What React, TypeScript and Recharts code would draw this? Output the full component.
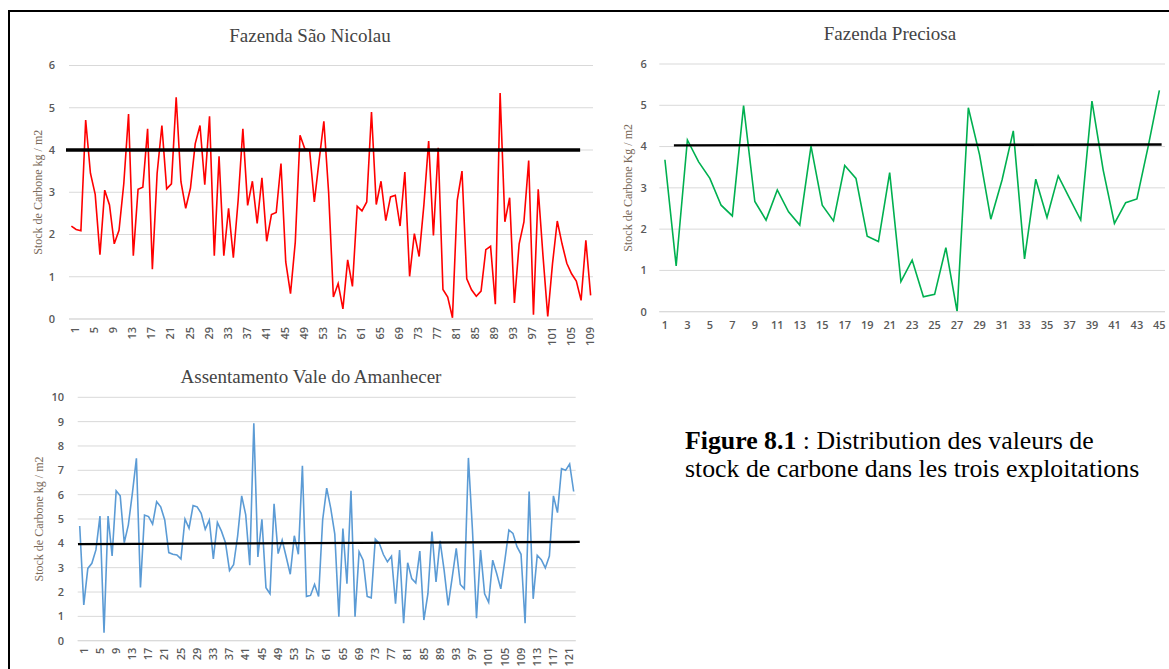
import React from 'react';
import { LineChart, Line, XAxis, YAxis, CartesianGrid, ReferenceLine, Label } from 'recharts';

// ---------- DATA ----------
const saoNicolauValues = [
  2.2, 2.12, 2.09, 4.71, 3.45, 2.95, 1.52, 3.05, 2.7, 1.78,
  2.1, 3.2, 4.85, 1.5, 3.07, 3.12, 4.5, 1.18, 3.45, 4.58,
  3.08, 3.2, 5.25, 3.25, 2.62, 3.1, 4.15, 4.58, 3.18, 4.8,
  1.5, 3.85, 1.5, 2.62, 1.45, 2.8, 4.5, 2.69, 3.26, 2.26,
  3.34, 1.84, 2.47, 2.52, 3.68, 1.35, 0.6, 1.82, 4.35, 4.03,
  4.0, 2.77, 3.75, 4.68, 3.0, 0.52, 0.84, 0.24, 1.4, 0.77,
  2.67, 2.56, 2.77, 4.9, 2.71, 3.26, 2.33, 2.89, 2.93, 2.2,
  3.48, 1.01, 2.02, 1.48, 2.7, 4.21, 1.98, 4.05, 0.7, 0.52,
  0.03, 2.81, 3.5, 0.95, 0.69, 0.54, 0.66, 1.64, 1.72, 0.35,
  5.35, 2.3, 2.87, 0.38, 1.78, 2.3, 3.75, 0.1, 3.07, 1.5,
  0.06, 1.31, 2.32, 1.78, 1.32, 1.07, 0.9, 0.44, 1.86, 0.56,
];

const preciosaValues = [
  3.68, 1.11, 4.16, 3.63, 3.23, 2.58, 2.32, 4.99, 2.67, 2.22,
  2.95, 2.42, 2.1, 4.01, 2.58, 2.2, 3.54, 3.23, 1.83, 1.7,
  3.37, 0.73, 1.25, 0.36, 0.42, 1.55, 0.0, 4.94, 3.8, 2.24,
  3.19, 4.38, 1.28, 3.21, 2.28, 3.29, 2.75, 2.22, 5.1, 3.43,
  2.14, 2.64, 2.73, 4.0, 5.36,
];

const valeValues = [
  4.71, 1.47, 2.97, 3.18, 3.73, 5.12, 0.33, 5.12, 3.48, 6.16,
  5.95, 4.03, 4.75, 6.05, 7.49, 2.19, 5.16, 5.1, 4.79, 5.71,
  5.5, 4.96, 3.62, 3.55, 3.52, 3.36, 5.0, 4.62, 5.55, 5.5,
  5.23, 4.58, 4.96, 3.36, 4.86, 4.5, 4.03, 2.88, 3.12, 4.3,
  5.95, 5.17, 3.1, 8.93, 3.44, 4.99, 2.18, 1.93, 5.62, 3.58,
  4.13, 3.44, 2.73, 4.31, 3.55, 7.19, 1.82, 1.86, 2.31, 1.82,
  4.96, 6.27, 5.44, 4.38, 0.99, 4.61, 2.34, 6.16, 0.99, 3.65,
  3.31, 1.82, 1.76, 4.17, 4.0, 3.54, 3.24, 3.47, 1.52, 3.72,
  0.72, 3.2, 2.55, 2.37, 3.68, 0.85, 1.93, 4.48, 2.41, 4.1,
  2.9, 1.45, 2.6, 3.79, 2.31, 2.13, 7.51, 4.55, 0.92, 3.72,
  1.93, 1.58, 3.31, 2.75, 2.13, 3.3, 4.55, 4.41, 3.86, 3.55,
  0.72, 6.13, 1.72, 3.51, 3.33, 2.99, 3.48, 5.95, 5.26, 7.07,
  7.0, 7.26, 6.13,
];

const saoNicolauCategories = saoNicolauValues.map((_, i) => i + 1);
const preciosaCategories = preciosaValues.map((_, i) => i + 1);
const valeCategories = valeValues.map((_, i) => i + 1);

const saoNicolauTicks = saoNicolauCategories.filter((_, i) => i % 4 === 0);
const preciosaTicks = preciosaCategories.filter((_, i) => i % 2 === 0);
const valeTicks = valeCategories.filter((_, i) => i % 4 === 0);

const yTicks6 = [0, 1, 2, 3, 4, 5, 6];
const yTicks10 = [0, 1, 2, 3, 4, 5, 6, 7, 8, 9, 10];

// threshold lines (category position, value)
const saoNicolauThreshold = [{ x: -0.13, y: 4 }, { x: 107.8, y: 4 }];
const preciosaThreshold = [{ x: 1.8, y: 4.03 }, { x: 45.2, y: 4.05 }];
const valeThreshold = [{ x: 0.57, y: 3.97 }, { x: 124.5, y: 4.06 }];

const titles = ['Fazenda São Nicolau', 'Fazenda Preciosa', 'Assentamento Vale do Amanhecer'];
const yLabels = ['Stock de Carbone kg / m2', 'Stock de Carbone Kg / m2', 'Stock de Carbone kg / m2'];

const build = (cats: number[], vals: number[]) => cats.map((n, i) => ({ n, v: vals[i] }));
const saoNicolauData = build(saoNicolauCategories, saoNicolauValues);
const preciosaData = build(preciosaCategories, preciosaValues);
const valeData = build(valeCategories, valeValues);

// ---------- STYLE ----------
const tickFont = { fontFamily: 'Open Sans', fontSize: 11, fontWeight: 600, fill: '#595959' };
const serif = 'Liberation Serif';

type PanelProps = {
  data: { n: number; v: number }[];
  color: string;
  xTicks: number[];
  yTicks: number[];
  yMax: number;
  threshold: { x: number; y: number }[];
  thresholdWidth: number;
  yLabel: string;
  width: number;
  height: number;
  margin: { top: number; right: number; bottom: number; left: number };
  yAxisWidth: number;
  yTickMargin: number;
  yLabelOffset: number;
  rotated: boolean;
  xTickMargin: number;
  xAxisHeight: number;
};

function Panel(p: PanelProps) {
  const n = p.data.length;
  const xTick = p.rotated
    ? { ...tickFont, angle: -90, textAnchor: 'end', verticalAnchor: 'middle' }
    : { ...tickFont };
  return (
    <LineChart width={p.width} height={p.height} data={p.data} margin={p.margin}>
      <CartesianGrid vertical={false} stroke="#d9d9d9" strokeWidth={1} />
      <XAxis
        type="number"
        dataKey="n"
        domain={[0.5, n + 0.5]}
        allowDataOverflow
        ticks={p.xTicks}
        interval={0}
        tickLine={false}
        axisLine={{ stroke: '#d9d9d9' }}
        tick={xTick as any}
        tickMargin={p.xTickMargin}
        height={p.xAxisHeight}
      />
      <YAxis
        type="number"
        domain={[0, p.yMax]}
        ticks={p.yTicks}
        interval={0}
        tickLine={false}
        axisLine={false}
        tick={tickFont}
        tickMargin={p.yTickMargin}
        width={p.yAxisWidth}
      >
        <Label
          value={p.yLabel}
          angle={-90}
          position="insideLeft"
          offset={p.yLabelOffset}
          style={{ textAnchor: 'middle', fontFamily: serif, fontSize: 12, fill: '#7a6a5a' }}
        />
      </YAxis>
      <Line
        type="linear"
        dataKey="v"
        stroke={p.color}
        strokeWidth={1.6}
        dot={false}
        activeDot={false}
        isAnimationActive={false}
      />
      <ReferenceLine
        segment={p.threshold}
        stroke="#000000"
        strokeWidth={p.thresholdWidth}
        ifOverflow="visible"
      />
    </LineChart>
  );
}

const titleStyle = (center: number, top: number): React.CSSProperties => ({
  position: 'absolute',
  left: center - 200,
  top,
  width: 400,
  textAlign: 'center',
  fontFamily: serif,
  fontSize: 19,
  lineHeight: '22px',
  color: '#444444',
  whiteSpace: 'nowrap',
});

export default function App() {
  return (
    <div
      style={{
        position: 'absolute',
        left: 0,
        top: 0,
        width: 1169,
        height: 669,
        overflow: 'hidden',
        background: '#ffffff',
      }}
    >
      <div
        style={{
          position: 'absolute',
          left: 7.5,
          top: 9.8,
          width: 1200,
          height: 720,
          border: '2.6px solid #000',
          boxSizing: 'border-box',
        }}
      />

      <div style={{ position: 'absolute', left: 0, top: 0 }}>
        <Panel
          data={saoNicolauData}
          color="#ff0000"
          xTicks={saoNicolauTicks}
          yTicks={yTicks6}
          yMax={6}
          threshold={saoNicolauThreshold}
          thresholdWidth={3.3}
          yLabel={yLabels[0]}
          width={600}
          height={360}
          margin={{ top: 65.5, right: 7, bottom: 11, left: 0 }}
          yAxisWidth={69}
          yTickMargin={8}
          yLabelOffset={38}
          rotated
          xTickMargin={2}
          xAxisHeight={30}
        />
      </div>
      <div style={titleStyle(310, 24.9)}>{titles[0]}</div>

      <div style={{ position: 'absolute', left: 600, top: 0 }}>
        <Panel
          data={preciosaData}
          color="#00b050"
          xTicks={preciosaTicks}
          yTicks={yTicks6}
          yMax={6}
          threshold={preciosaThreshold}
          thresholdWidth={2.3}
          yLabel={yLabels[1]}
          width={569}
          height={360}
          margin={{ top: 64, right: 4, bottom: 18.3, left: 0 }}
          yAxisWidth={59.3}
          yTickMargin={6.6}
          yLabelOffset={27.7}
          rotated={false}
          xTickMargin={3.3}
          xAxisHeight={30}
        />
      </div>
      <div style={titleStyle(890, 23.3)}>{titles[1]}</div>

      <div style={{ position: 'absolute', left: 0, top: 340 }}>
        <Panel
          data={valeData}
          color="#5b9bd5"
          xTicks={valeTicks}
          yTicks={yTicks10}
          yMax={10}
          threshold={valeThreshold}
          thresholdWidth={2.3}
          yLabel={yLabels[2]}
          width={600}
          height={329}
          margin={{ top: 57.3, right: 24.3, bottom: 8.3, left: 0 }}
          yAxisWidth={77.7}
          yTickMargin={7.7}
          yLabelOffset={38.3}
          rotated
          xTickMargin={1}
          xAxisHeight={20}
        />
      </div>
      <div style={titleStyle(311, 365.9)}>{titles[2]}</div>

      <div
        style={{
          position: 'absolute',
          left: 685,
          top: 426.5,
          fontFamily: serif,
          fontSize: 25.8,
          lineHeight: '28.5px',
          color: '#000',
          whiteSpace: 'nowrap',
        }}
      >
        <b>Figure 8.1</b> : Distribution des valeurs de
        <br />
        stock de carbone dans les trois exploitations
      </div>
    </div>
  );
}
